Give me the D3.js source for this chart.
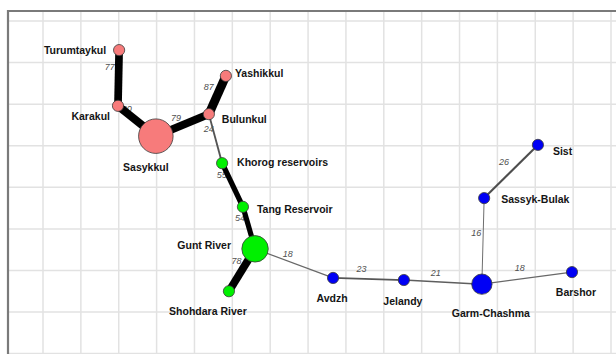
<!DOCTYPE html>
<html>
<head>
<meta charset="utf-8">
<script src="https://cdn.jsdelivr.net/npm/d3@7"></script>
<style>
  html, body { margin: 0; padding: 0; background: #fff; }
  svg { display: block; }
  .node-label { font-family: "Liberation Sans", Arial, sans-serif; font-weight: bold; font-size: 10.5px; fill: #151515; }
  .edge-label { font-family: "Liberation Sans", Arial, sans-serif; font-style: italic; font-size: 9px; fill: #505050; }
</style>
</head>
<body>
<script>
// Lakes and reservoirs of the network (layout units = grid cells)
const nodeNames = ["Turumtaykul", "Karakul", "Sasykkul", "Bulunkul", "Yashikkul",
  "Khorog reservoirs", "Tang Reservoir", "Gunt River", "Shohdara River",
  "Avdzh", "Jelandy", "Garm-Chashma", "Sassyk-Bulak", "Sist", "Barshor"];
const nodeX = [2.01, 1.98, 2.98, 4.38, 4.83, 4.73, 5.28, 5.60, 4.91, 7.66, 9.53, 11.59, 11.65, 13.07, 13.97];
const nodeY = [0.70, 2.04, 2.77, 2.24, 1.32, 3.42, 4.47, 5.48, 6.50, 6.18, 6.23, 6.33, 4.26, 2.98, 6.04];
const nodeWeight = [1, 1, 9.5, 1, 1, 1, 1, 5.6, 1, 1, 1, 3.3, 1, 1, 1];
const nodeGroup = [0, 0, 0, 0, 0, 1, 1, 1, 1, 2, 2, 2, 2, 2, 2];

// Links between them with their strength values
const linkSource = [0, 1, 2, 3, 3, 5, 6, 7, 7, 9, 10, 11, 12, 11];
const linkTarget = [1, 2, 3, 4, 5, 6, 7, 8, 9, 10, 11, 12, 13, 14];
const linkValue  = [77, 80, 79, 87, 24, 55, 54, 78, 18, 23, 21, 16, 26, 18];

const W = 616, H = 354;
const svg = d3.select("body").append("svg").attr("width", W).attr("height", H);

const x = d3.scaleLinear().domain([0, 15]).range([43, 611]);
const y = d3.scaleLinear().domain([0, 8]).range([21, 353.6]);
const r = d3.scaleSqrt().domain([0, 1]).range([0, 5.6]);
const color = d3.scaleOrdinal().domain([0, 1, 2]).range(["#f77b7b", "#00f000", "#0000f5"]);
const width = d3.scaleLinear().domain([16, 87]).range([1, 8.8]).clamp(true);
const stroke = d3.scaleLinear().domain([16, 50]).range(["#6e6e6e", "#000"]).clamp(true);

// background grid
const grid = svg.append("g");
grid.selectAll("line.v").data(d3.range(0, 16)).join("line")
  .attr("x1", d => x(d)).attr("x2", d => x(d))
  .attr("y1", 12).attr("y2", H)
  .attr("stroke", "#e2e2e2").attr("stroke-width", 1.5);
grid.selectAll("line.h").data(d3.range(0, 9)).join("line")
  .attr("x1", 9).attr("x2", W)
  .attr("y1", d => y(d)).attr("y2", d => y(d))
  .attr("stroke", "#e2e2e2").attr("stroke-width", 1.5);

// frame
svg.append("path")
  .attr("d", `M8,${H} V11 H${W}`)
  .attr("fill", "none").attr("stroke", "#7a7a7a").attr("stroke-width", 2.2);

const nodes = nodeNames.map((name, i) => ({
  name, cx: x(nodeX[i]), cy: y(nodeY[i]), rad: r(nodeWeight[i]), fill: color(nodeGroup[i])
}));
const links = linkValue.map((v, i) => ({
  s: nodes[linkSource[i]], t: nodes[linkTarget[i]], v
}));

// where along each link its value sits: [fraction, dx, dy]
const edgeLabelAt = [
  [0.30, -9, 0], [0.18, 2, -2], [0.38, 0, -10], [0.70, -12, -1], [0.30, -4, 0],
  [0.27, -6, 0], [0.26, -6, 0], [0.29, -11, 0], [0.42, 0, -7], [0.40, 0, -10],
  [0.41, 0, -9], [0.60, -7, 0], [0.50, -7, -10], [0.42, 0, -11]
];

svg.append("g").selectAll("text").data(links).join("text")
  .attr("class", "edge-label")
  .attr("text-anchor", "middle")
  .attr("dy", "0.35em")
  .attr("x", (d, i) => d.s.cx + edgeLabelAt[i][0] * (d.t.cx - d.s.cx) + edgeLabelAt[i][1])
  .attr("y", (d, i) => d.s.cy + edgeLabelAt[i][0] * (d.t.cy - d.s.cy) + edgeLabelAt[i][2])
  .text(d => d.v);

svg.append("g").selectAll("line").data(links).join("line")
  .attr("x1", d => d.s.cx).attr("y1", d => d.s.cy)
  .attr("x2", d => d.t.cx).attr("y2", d => d.t.cy)
  .attr("stroke", d => stroke(d.v))
  .attr("stroke-width", d => width(d.v));

svg.append("g").selectAll("circle").data(nodes).join("circle")
  .attr("cx", d => d.cx).attr("cy", d => d.cy).attr("r", d => d.rad)
  .attr("fill", d => d.fill)
  .attr("stroke", "#3a3a3a").attr("stroke-width", 0.8);

// label placement relative to each node: [anchor, dx, dy]
const labelAt = [
  ["end", -13, 0], ["end", -8, 11], ["middle", -10, 31], ["start", 13, 5], ["start", 9, -3],
  ["start", 15, -1], ["start", 14, 2], ["end", -24, -4], ["middle", -21, 20],
  ["middle", -1, 20], ["middle", -1, 21], ["middle", 9, 29], ["start", 17, 1],
  ["start", 15, 6], ["middle", 4, 20]
];

svg.append("g").selectAll("text").data(nodes).join("text")
  .attr("class", "node-label")
  .attr("text-anchor", (d, i) => labelAt[i][0])
  .attr("dy", "0.35em")
  .attr("x", (d, i) => d.cx + labelAt[i][1])
  .attr("y", (d, i) => d.cy + labelAt[i][2])
  .text(d => d.name);
</script>
</body>
</html>
